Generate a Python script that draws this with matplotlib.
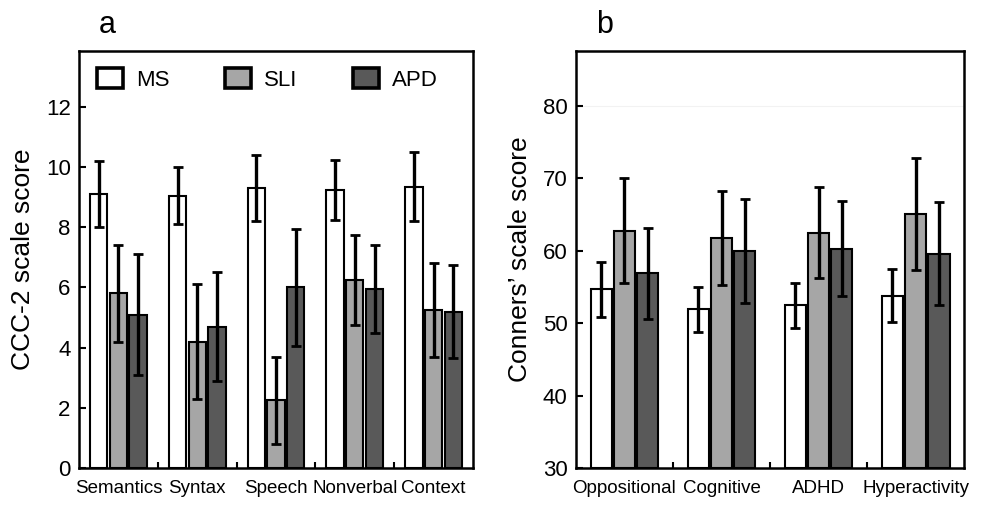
import matplotlib
matplotlib.use("Agg")
import matplotlib.pyplot as plt
import numpy as np

plt.rcParams['font.family'] = ['Liberation Sans', 'DejaVu Sans']

groups = ["MS", "SLI", "APD"]
colors = ["#ffffff", "#a6a6a6", "#595959"]

# CCC-2 subscales
ccc_labels = ["Semantics", "Syntax", "Speech", "Nonverbal", "Context"]
ccc_ms = [9.1, 9.05, 9.3, 9.25, 9.35]
ccc_ms_err = [1.1, 0.95, 1.1, 1.0, 1.15]
ccc_sli = [5.8, 4.2, 2.25, 6.25, 5.25]
ccc_sli_err = [1.6, 1.9, 1.45, 1.5, 1.55]
ccc_apd = [5.1, 4.7, 6.0, 5.95, 5.2]
ccc_apd_err = [2.0, 1.8, 1.95, 1.45, 1.55]

# Conners' subscales
con_labels = ["Oppositional", "Cognitive", "ADHD", "Hyperactivity"]
con_ms = [54.7, 51.9, 52.5, 53.8]
con_ms_err = [3.8, 3.1, 3.1, 3.7]
con_sli = [62.8, 61.8, 62.5, 65.1]
con_sli_err = [7.3, 6.5, 6.3, 7.7]
con_apd = [56.9, 60.0, 60.3, 59.6]
con_apd_err = [6.3, 7.2, 6.6, 7.1]

fig = plt.figure(figsize=(9.9, 5.05), dpi=100)
ax_a = fig.add_axes([0.0798, 0.0733, 0.398, 0.8257])
ax_b = fig.add_axes([0.5818, 0.0733, 0.392, 0.8257])


def draw_panel(ax, labels, means, errs, width, offset, ylim, yticks, ylabel):
    n = len(labels)
    centers = np.arange(n) + 0.5
    handles = []
    for k, (m, e) in enumerate(zip(means, errs)):
        x = centers + (k - 1) * offset
        b = ax.bar(x, np.array(m) - ylim[0], width, bottom=ylim[0],
                   color=colors[k], edgecolor="black", linewidth=1.5,
                   label=groups[k], zorder=2)
        handles.append(b)
        ax.errorbar(x, m, yerr=e, fmt="none", ecolor="black",
                    elinewidth=2.4, capsize=3.8, capthick=2.0, zorder=3)
    ax.set_xlim(0, n)
    ax.set_ylim(*ylim)
    ax.set_xticks(centers)
    ax.set_xticklabels(labels, fontsize=13.5)
    ax.tick_params(axis="x", which="major", length=0, pad=9)
    ax.set_xticks(np.arange(1, n), minor=True)
    ax.tick_params(axis="x", which="minor", direction="in", length=4,
                   width=1.5)
    ax.set_yticks(yticks)
    ax.tick_params(axis="y", direction="in", length=5, width=1.5,
                   labelsize=16, pad=6)
    ax.set_ylabel(ylabel, fontsize=19, labelpad=8)
    for s in ax.spines.values():
        s.set_linewidth(1.8)
    return handles


h = draw_panel(ax_a, ccc_labels, [ccc_ms, ccc_sli, ccc_apd],
               [ccc_ms_err, ccc_sli_err, ccc_apd_err],
               0.22, 0.25, (0, 13.86), np.arange(0, 13, 2),
               "CCC-2 scale score")
draw_panel(ax_b, con_labels, [con_ms, con_sli, con_apd],
           [con_ms_err, con_sli_err, con_apd_err],
           0.22, 0.24, (30, 87.6), np.arange(30, 81, 10),
           "Conners\u2019 scale score")
ax_b.axhline(80, color="#f2f2f2", linewidth=0.8, zorder=0)

leg = ax_a.legend(handles=h, labels=groups, ncol=3, loc="upper left",
                  bbox_to_anchor=(-0.004, 1.008), frameon=False,
                  fontsize=16, handlelength=1.15, handleheight=1.05,
                  handletextpad=0.6, columnspacing=2.5)
for p in leg.get_patches():
    p.set_linewidth(2.6)

fig.text(0.108, 0.95, "a", fontsize=22, ha="center", va="center")
fig.text(0.611, 0.95, "b", fontsize=22, ha="center", va="center")

fig.savefig("out.png", dpi=100)
